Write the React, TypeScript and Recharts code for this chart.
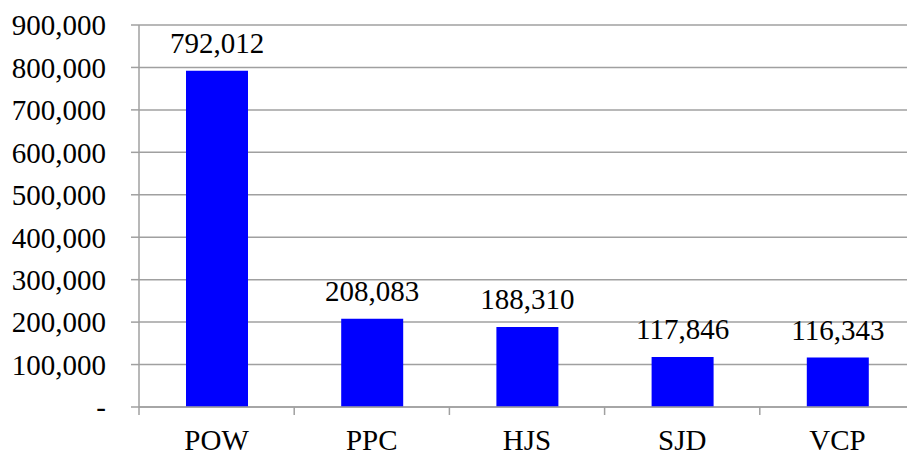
import { Bar, BarChart, CartesianGrid, LabelList, XAxis, YAxis } from 'recharts';

const categories = ['POW', 'PPC', 'HJS', 'SJD', 'VCP'];
const values = [792012, 208083, 188310, 117846, 116343];
const yTicks = [0, 100000, 200000, 300000, 400000, 500000, 600000, 700000, 800000, 900000];

const data = categories.map((name, i) => ({ name, value: values[i] }));

const FONT = '"Liberation Serif", "Times New Roman", serif';
const GREY = '#a0a0a0';
const CHART_W = 916;
const PLOT_LEFT = 139;
const PLOT_RIGHT_MARGIN = 1;
const BAND = (CHART_W - PLOT_LEFT - PLOT_RIGHT_MARGIN) / categories.length;

const fmt = (v: number) => (v === 0 ? '-' : v.toLocaleString('en-US'));

const CategoryTick = (props: any) => {
  const { x, y, payload, index } = props;
  return (
    <g>
      <line x1={x - BAND / 2} y1={y} x2={x - BAND / 2} y2={y + 8} stroke={GREY} strokeWidth={1.5} />
      {index === categories.length - 1 && (
        <line x1={x + BAND / 2} y1={y} x2={x + BAND / 2} y2={y + 8} stroke={GREY} strokeWidth={1.5} />
      )}
      <text x={x} y={y + 43} textAnchor="middle" fill="#000" fontSize={29} fontFamily={FONT}>
        {payload.value}
      </text>
    </g>
  );
};

export default function App() {
  return (
    <div
      style={{
        position: 'absolute',
        left: 0,
        top: 0,
        width: 907,
        height: 452,
        overflow: 'hidden',
        background: '#fff',
      }}
    >
      <BarChart
        width={CHART_W}
        height={452}
        data={data}
        margin={{ top: 25, right: PLOT_RIGHT_MARGIN, left: 0, bottom: 0 }}
      >
        <CartesianGrid vertical={false} stroke={GREY} strokeWidth={1.5} />
        <XAxis
          dataKey="name"
          height={45}
          axisLine={{ stroke: GREY, strokeWidth: 1.5 }}
          tickLine={false}
          tickSize={0}
          tickMargin={0}
          interval={0}
          tick={<CategoryTick />}
        />
        <YAxis
          width={PLOT_LEFT}
          domain={[0, 900000]}
          ticks={yTicks}
          interval={0}
          tickFormatter={fmt}
          axisLine={{ stroke: GREY, strokeWidth: 1.5 }}
          tickLine={{ stroke: GREY, strokeWidth: 1.5 }}
          tickSize={8}
          tickMargin={25}
          tick={{ fill: '#000', fontSize: 29, fontFamily: FONT }}
        />
        <Bar dataKey="value" fill="#0000ff" barSize={62} isAnimationActive={false}>
          <LabelList
            dataKey="value"
            position="top"
            offset={18}
            formatter={(v: any) => Number(v).toLocaleString('en-US')}
            fill="#000"
            fontSize={29}
            fontFamily={FONT}
          />
        </Bar>
      </BarChart>
    </div>
  );
}
